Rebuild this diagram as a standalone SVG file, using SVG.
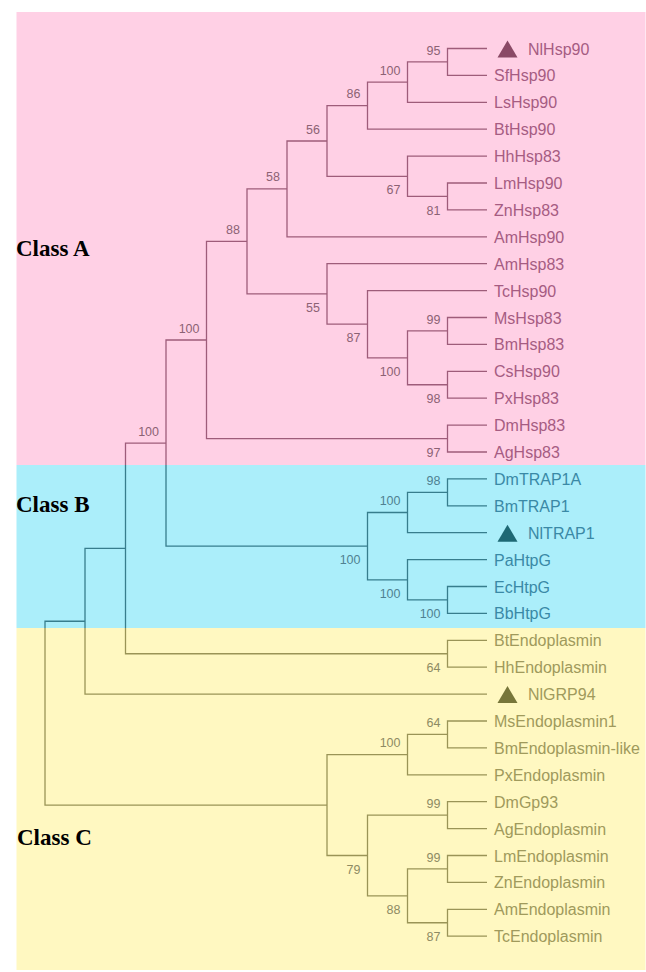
<svg xmlns="http://www.w3.org/2000/svg" width="646" height="972" viewBox="0 0 646 972">
<style>
.bgA{fill:#FFD0E5}.bgB{fill:#ABEEFA}.bgC{fill:#FFF8C1}
.l{fill:none;stroke-width:1.3}
.la{stroke:#9E5C7A}.lb{stroke:#377D8D}.lc{stroke:#9A9457}
.leaf{font-family:"Liberation Sans",Arial,sans-serif;font-size:16px}
.ta{fill:#A65C82}.tb{fill:#3A89A6}.tc{fill:#A09A5C}
.bs{font-family:"Liberation Sans",Arial,sans-serif;font-size:12.5px;text-anchor:end}
.ba{fill:#8C6274}.bb{fill:#4F8191}.bc{fill:#8E8B63}
.cls{font-family:"Liberation Serif","Times New Roman",serif;font-size:23px;font-weight:bold;fill:#000}
.triA{fill:#8A4A66}.triB{fill:#1E6874}.triC{fill:#77763A}
</style>
<rect width="646" height="972" fill="#FFFFFF"/>
<g id="backgrounds">
<rect class="bgA" x="16.5" y="12" width="629" height="453"/>
<rect class="bgB" x="16.5" y="465" width="629" height="163"/>
<rect class="bgC" x="16.5" y="628" width="629" height="342"/>
</g>
<g id="connectors">
<path class="l la" d="M487 48.5H447.5V75.4H487"/>
<path class="l la" d="M447.5 61.95H407.5V102.3H487"/>
<path class="l la" d="M407.5 82.1H367.5V129.2H487"/>
<path class="l la" d="M487 183H447.5V209.9H487"/>
<path class="l la" d="M487 156.1H407.5V196.45H447.5"/>
<path class="l la" d="M367.5 105.65H327V176.3H407.5"/>
<path class="l la" d="M327 141H287V236.8H487"/>
<path class="l la" d="M487 317.5H447.5V344.4H487"/>
<path class="l la" d="M487 371.3H447.5V398.2H487"/>
<path class="l la" d="M447.5 330.95H407.5V384.75H447.5"/>
<path class="l la" d="M487 290.6H367.5V357.85H407.5"/>
<path class="l la" d="M487 263.7H327V324.2H367.5"/>
<path class="l la" d="M287 188.9H247V293.95H327"/>
<path class="l la" d="M487 425.1H447.5V452H487"/>
<path class="l la" d="M247 241.4H206.5V438.55H447.5"/>
<path class="l la" d="M206.5 340H166V465"/>
<path class="l la" d="M166 443.1H125.5V465"/>
<path class="l lb" d="M487 478.9H447.5V505.8H487"/>
<path class="l lb" d="M447.5 492.35H407.5V532.7H487"/>
<path class="l lb" d="M487 586.5H447.5V613.4H487"/>
<path class="l lb" d="M487 559.6H407.5V599.95H447.5"/>
<path class="l lb" d="M407.5 512.5H367.5V579.8H407.5"/>
<path class="l lb" d="M166 465V546.15H367.5"/>
<path class="l lb" d="M125.5 465V628"/>
<path class="l lb" d="M125.5 548.4H85V628"/>
<path class="l lb" d="M85 621.25H45V628"/>
<path class="l lc" d="M125.5 628V653.75H447.5"/>
<path class="l lc" d="M487 640.3H447.5V667.2H487"/>
<path class="l lc" d="M85 628V694.1H487"/>
<path class="l lc" d="M45 628V805.05H327"/>
<path class="l lc" d="M487 721H447.5V747.9H487"/>
<path class="l lc" d="M447.5 734.45H407.5V774.8H487"/>
<path class="l lc" d="M487 801.7H447.5V828.6H487"/>
<path class="l lc" d="M487 855.5H447.5V882.4H487"/>
<path class="l lc" d="M487 909.3H447.5V936.2H487"/>
<path class="l lc" d="M447.5 868.95H407.5V922.75H447.5"/>
<path class="l lc" d="M447.5 815.15H367.5V895.85H407.5"/>
<path class="l lc" d="M407.5 754.6H327V855.5H367.5"/>
</g>
<g id="class-labels">
<text id="classA" class="cls" x="16" y="256">Class A</text>
<text id="classB" class="cls" x="16" y="512">Class B</text>
<text id="classC" class="cls" x="17" y="845">Class C</text>
</g>
<g id="bootstrap">
<g id="n95"><text class="bs ba" x="440.5" y="54.5">95</text></g>
<g id="n100a"><text class="bs ba" x="400.5" y="74.6">100</text></g>
<g id="n86"><text class="bs ba" x="360.5" y="98.2">86</text></g>
<g id="n56"><text class="bs ba" x="320" y="133.5">56</text></g>
<g id="n58"><text class="bs ba" x="280" y="181.4">58</text></g>
<g id="n88"><text class="bs ba" x="240" y="233.9">88</text></g>
<g id="n67"><text class="bs ba" x="400.5" y="194.3">67</text></g>
<g id="n81"><text class="bs ba" x="440.5" y="214.5">81</text></g>
<g id="n55"><text class="bs ba" x="320" y="312">55</text></g>
<g id="n87"><text class="bs ba" x="360.5" y="342.2">87</text></g>
<g id="n99a"><text class="bs ba" x="440.5" y="323.5">99</text></g>
<g id="n100b"><text class="bs ba" x="400.5" y="375.9">100</text></g>
<g id="n98a"><text class="bs ba" x="440.5" y="402.8">98</text></g>
<g id="n100c"><text class="bs ba" x="199.5" y="332.5">100</text></g>
<g id="n97"><text class="bs ba" x="440.5" y="456.6">97</text></g>
<g id="n100h"><text class="bs ba" x="159" y="435.6">100</text></g>
<g id="n98b"><text class="bs bb" x="440.5" y="484.9">98</text></g>
<g id="n100d"><text class="bs bb" x="400.5" y="505">100</text></g>
<g id="n100g"><text class="bs bb" x="360.5" y="564.2">100</text></g>
<g id="n100f"><text class="bs bb" x="400.5" y="597.8">100</text></g>
<g id="n100e"><text class="bs bb" x="440.5" y="618">100</text></g>
<g id="n64a"><text class="bs bc" x="440.5" y="671.8">64</text></g>
<g id="n64b"><text class="bs bc" x="440.5" y="727">64</text></g>
<g id="n100i"><text class="bs bc" x="400.5" y="747.1">100</text></g>
<g id="n99b"><text class="bs bc" x="440.5" y="807.7">99</text></g>
<g id="n99c"><text class="bs bc" x="440.5" y="861.5">99</text></g>
<g id="n79"><text class="bs bc" x="360.5" y="873.5">79</text></g>
<g id="n88b"><text class="bs bc" x="400.5" y="913.9">88</text></g>
<g id="n87b"><text class="bs bc" x="440.5" y="940.8">87</text></g>
</g>
<g id="leaves">
<g id="NlHsp90"><path class="triA" d="M497.5 57.5H517.5L507.5 40.5Z"/><text class="leaf ta" x="528" y="54.5">NlHsp90</text></g>
<g id="SfHsp90"><text class="leaf ta" x="494" y="81.4">SfHsp90</text></g>
<g id="LsHsp90"><text class="leaf ta" x="494" y="108.3">LsHsp90</text></g>
<g id="BtHsp90"><text class="leaf ta" x="494" y="135.2">BtHsp90</text></g>
<g id="HhHsp83"><text class="leaf ta" x="494" y="162.1">HhHsp83</text></g>
<g id="LmHsp90"><text class="leaf ta" x="494" y="189">LmHsp90</text></g>
<g id="ZnHsp83"><text class="leaf ta" x="494" y="215.9">ZnHsp83</text></g>
<g id="AmHsp90"><text class="leaf ta" x="494" y="242.8">AmHsp90</text></g>
<g id="AmHsp83"><text class="leaf ta" x="494" y="269.7">AmHsp83</text></g>
<g id="TcHsp90"><text class="leaf ta" x="494" y="296.6">TcHsp90</text></g>
<g id="MsHsp83"><text class="leaf ta" x="494" y="323.5">MsHsp83</text></g>
<g id="BmHsp83"><text class="leaf ta" x="494" y="350.4">BmHsp83</text></g>
<g id="CsHsp90"><text class="leaf ta" x="494" y="377.3">CsHsp90</text></g>
<g id="PxHsp83"><text class="leaf ta" x="494" y="404.2">PxHsp83</text></g>
<g id="DmHsp83"><text class="leaf ta" x="494" y="431.1">DmHsp83</text></g>
<g id="AgHsp83"><text class="leaf ta" x="494" y="458">AgHsp83</text></g>
<g id="DmTRAP1A"><text class="leaf tb" x="494" y="484.9">DmTRAP1A</text></g>
<g id="BmTRAP1"><text class="leaf tb" x="494" y="511.8">BmTRAP1</text></g>
<g id="NlTRAP1"><path class="triB" d="M497.5 541.7H517.5L507.5 524.7Z"/><text class="leaf tb" x="528" y="538.7">NlTRAP1</text></g>
<g id="PaHtpG"><text class="leaf tb" x="494" y="565.6">PaHtpG</text></g>
<g id="EcHtpG"><text class="leaf tb" x="494" y="592.5">EcHtpG</text></g>
<g id="BbHtpG"><text class="leaf tb" x="494" y="619.4">BbHtpG</text></g>
<g id="BtEndoplasmin"><text class="leaf tc" x="494" y="646.3">BtEndoplasmin</text></g>
<g id="HhEndoplasmin"><text class="leaf tc" x="494" y="673.2">HhEndoplasmin</text></g>
<g id="NlGRP94"><path class="triC" d="M497.5 703.1H517.5L507.5 686.1Z"/><text class="leaf tc" x="528" y="700.1">NlGRP94</text></g>
<g id="MsEndoplasmin1"><text class="leaf tc" x="494" y="727">MsEndoplasmin1</text></g>
<g id="BmEndoplasmin-like"><text class="leaf tc" x="494" y="753.9">BmEndoplasmin-like</text></g>
<g id="PxEndoplasmin"><text class="leaf tc" x="494" y="780.8">PxEndoplasmin</text></g>
<g id="DmGp93"><text class="leaf tc" x="494" y="807.7">DmGp93</text></g>
<g id="AgEndoplasmin"><text class="leaf tc" x="494" y="834.6">AgEndoplasmin</text></g>
<g id="LmEndoplasmin"><text class="leaf tc" x="494" y="861.5">LmEndoplasmin</text></g>
<g id="ZnEndoplasmin"><text class="leaf tc" x="494" y="888.4">ZnEndoplasmin</text></g>
<g id="AmEndoplasmin"><text class="leaf tc" x="494" y="915.3">AmEndoplasmin</text></g>
<g id="TcEndoplasmin"><text class="leaf tc" x="494" y="942.2">TcEndoplasmin</text></g>
</g>
</svg>
